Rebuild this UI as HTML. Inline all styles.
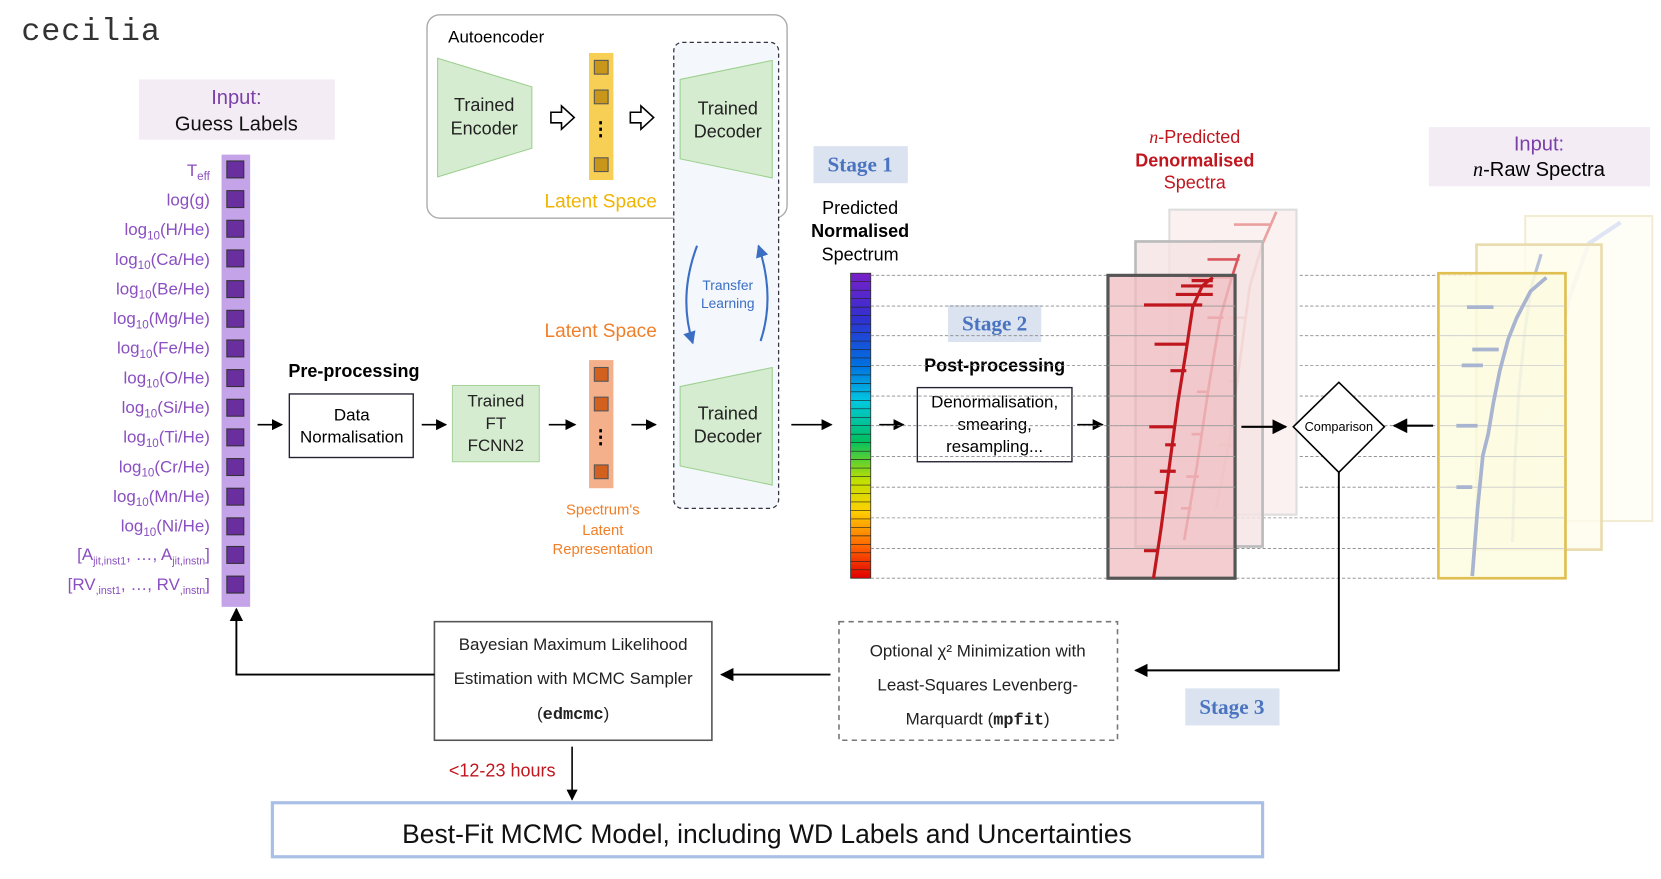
<!DOCTYPE html>
<html><head><meta charset="utf-8"><style>
html,body{margin:0;padding:0;background:#fff;}
svg{display:block;font-family:"Liberation Sans",sans-serif;}
</style></head><body>
<svg width="1661" height="879" viewBox="0 0 1568 830" xmlns="http://www.w3.org/2000/svg">
<defs>
<marker id="ar" viewBox="0 0 10 10" refX="9" refY="5" markerWidth="7" markerHeight="7" orient="auto"><path d="M0,0 L10,5 L0,10 z" fill="#000"/></marker>
<marker id="arb" viewBox="0 0 10 10" refX="9" refY="5" markerWidth="6" markerHeight="6" orient="auto"><path d="M0,0 L10,5 L0,10 z" fill="#3a6fc4"/></marker>
<linearGradient id="rb" x1="0" y1="0" x2="0" y2="1">
<stop offset="0" stop-color="#7a1fc8"/><stop offset="0.15" stop-color="#3030d0"/><stop offset="0.3" stop-color="#0070e0"/><stop offset="0.42" stop-color="#00c8e0"/><stop offset="0.55" stop-color="#00c060"/><stop offset="0.68" stop-color="#c0e000"/><stop offset="0.78" stop-color="#ffd000"/><stop offset="0.9" stop-color="#ff6000"/><stop offset="1" stop-color="#e00000"/></linearGradient>
</defs>
<text x="20" y="38" font-family="Liberation Mono,monospace" font-size="30" fill="#333" letter-spacing="0.8">cecilia</text>

<!-- Input guess labels -->
<rect x="131" y="75" width="185" height="57" fill="#f3ecf5"/>
<text x="223" y="98" font-size="19" fill="#7b3fa8" text-anchor="middle">Input:</text>
<text x="223" y="123" font-size="19" fill="#111" text-anchor="middle">Guess Labels</text>
<rect x="209" y="146" width="27" height="427" fill="#c4a3e8"/>
<g fill="#6a2f9e" stroke="#333" stroke-width="1">
<rect x="214" y="152" width="16" height="16"/><rect x="214" y="180" width="16" height="16"/><rect x="214" y="208" width="16" height="16"/><rect x="214" y="236" width="16" height="16"/><rect x="214" y="265" width="16" height="16"/><rect x="214" y="293" width="16" height="16"/><rect x="214" y="321" width="16" height="16"/><rect x="214" y="349" width="16" height="16"/><rect x="214" y="377" width="16" height="16"/><rect x="214" y="405" width="16" height="16"/><rect x="214" y="433" width="16" height="16"/><rect x="214" y="461" width="16" height="16"/><rect x="214" y="489" width="16" height="16"/><rect x="214" y="516" width="16" height="16"/><rect x="214" y="544" width="16" height="16"/>
</g>
<g font-size="16" fill="#8a4fc0" text-anchor="end">
<text x="198" y="166">T<tspan font-size="11" dy="4">eff</tspan></text>
<text x="198" y="194">log(g)</text>
<text x="198" y="222">log<tspan font-size="11" dy="4">10</tspan><tspan dy="-4">(H/He)</tspan></text>
<text x="198" y="250">log<tspan font-size="11" dy="4">10</tspan><tspan dy="-4">(Ca/He)</tspan></text>
<text x="198" y="278">log<tspan font-size="11" dy="4">10</tspan><tspan dy="-4">(Be/He)</tspan></text>
<text x="198" y="306">log<tspan font-size="11" dy="4">10</tspan><tspan dy="-4">(Mg/He)</tspan></text>
<text x="198" y="334">log<tspan font-size="11" dy="4">10</tspan><tspan dy="-4">(Fe/He)</tspan></text>
<text x="198" y="362">log<tspan font-size="11" dy="4">10</tspan><tspan dy="-4">(O/He)</tspan></text>
<text x="198" y="390">log<tspan font-size="11" dy="4">10</tspan><tspan dy="-4">(Si/He)</tspan></text>
<text x="198" y="418">log<tspan font-size="11" dy="4">10</tspan><tspan dy="-4">(Ti/He)</tspan></text>
<text x="198" y="446">log<tspan font-size="11" dy="4">10</tspan><tspan dy="-4">(Cr/He)</tspan></text>
<text x="198" y="474">log<tspan font-size="11" dy="4">10</tspan><tspan dy="-4">(Mn/He)</tspan></text>
<text x="198" y="502">log<tspan font-size="11" dy="4">10</tspan><tspan dy="-4">(Ni/He)</tspan></text>
<text x="198" y="529">[A<tspan font-size="10" dy="4">jit,inst1</tspan><tspan dy="-4">, …, A</tspan><tspan font-size="10" dy="4">jit,instn</tspan><tspan dy="-4">]</tspan></text>
<text x="198" y="557">[RV<tspan font-size="10" dy="4">,inst1</tspan><tspan dy="-4">, …, RV</tspan><tspan font-size="10" dy="4">,instn</tspan><tspan dy="-4">]</tspan></text>
</g>

<g stroke="#000" stroke-width="1.5" marker-end="url(#ar)">
<line x1="243" y1="401" x2="266" y2="401"/>
<line x1="398" y1="401" x2="421" y2="401"/>
<line x1="518" y1="401" x2="543" y2="401"/>
<line x1="596" y1="401" x2="619" y2="401"/>
<line x1="747" y1="401" x2="785" y2="401"/>
<line x1="830" y1="401" x2="853" y2="401"/>
<line x1="1017" y1="401" x2="1041" y2="401"/>
</g>

<text x="334" y="356" font-size="17" font-weight="bold" text-anchor="middle">Pre-processing</text>
<rect x="273" y="372" width="117" height="60" fill="#fff" stroke="#223" stroke-width="1.3"/>
<text x="332" y="397" font-size="16" text-anchor="middle">Data</text>
<text x="332" y="418" font-size="16" text-anchor="middle">Normalisation</text>

<rect x="427" y="364" width="82" height="72" fill="#d5ecd0" stroke="#a8d49c"/>
<text x="468" y="384" font-size="16" text-anchor="middle" fill="#222">Trained</text>
<text x="468" y="405" font-size="16" text-anchor="middle" fill="#222">FT</text>
<text x="468" y="426" font-size="16" text-anchor="middle" fill="#222">FCNN2</text>

<!-- Autoencoder box -->
<rect x="403" y="14" width="340" height="192" rx="12" fill="#fff" stroke="#aaa" stroke-width="1.3"/>
<rect x="636" y="40" width="99" height="440" rx="8" fill="#f4f7fc" stroke="#334" stroke-width="1.2" stroke-dasharray="4,3"/>
<text x="423" y="40" font-size="16">Autoencoder</text>
<path d="M413,55 L502,82 L502,140 L413,167 Z" fill="#d5ecd0" stroke="#9cd08f"/>
<text x="457" y="105" font-size="17" text-anchor="middle" fill="#222">Trained</text>
<text x="457" y="127" font-size="17" text-anchor="middle" fill="#222">Encoder</text>
<path d="M520,106 h10 v-6 l12,11 l-12,11 v-6 h-10 z" fill="#fff" stroke="#000" stroke-width="1.5"/>
<path d="M595,106 h10 v-6 l12,11 l-12,11 v-6 h-10 z" fill="#fff" stroke="#000" stroke-width="1.5"/>
<rect x="556" y="50" width="23" height="120" fill="#f7cf54"/>
<g fill="#c8961a" stroke="#555"><rect x="561" y="57" width="13" height="13"/><rect x="561" y="85" width="13" height="13"/><rect x="561" y="149" width="13" height="13"/></g>
<text x="567" y="128" font-size="18" text-anchor="middle" font-weight="bold">⋮</text>
<text x="567" y="196" font-size="18" text-anchor="middle" fill="#f0b400">Latent Space</text>
<path d="M642,75 L729,57 L729,168 L642,150 Z" fill="#d5ecd0" stroke="#9cd08f"/>
<text x="687" y="108" font-size="17" text-anchor="middle" fill="#222">Trained</text>
<text x="687" y="130" font-size="17" text-anchor="middle" fill="#222">Decoder</text>

<!-- Transfer learning -->
<text x="687" y="274" font-size="13" fill="#3a6fc4" text-anchor="middle">Transfer</text>
<text x="687" y="291" font-size="13" fill="#3a6fc4" text-anchor="middle">Learning</text>
<path d="M658,232 Q640,280 654,324" fill="none" stroke="#3a6fc4" stroke-width="2" marker-end="url(#arb)"/>
<path d="M718,322 Q732,280 716,232" fill="none" stroke="#3a6fc4" stroke-width="2" marker-end="url(#arb)"/>

<text x="567" y="318" font-size="18" text-anchor="middle" fill="#f07f2a">Latent Space</text>
<rect x="556" y="340" width="23" height="121" fill="#f4b08a"/>
<g fill="#d2601f" stroke="#555"><rect x="561" y="347" width="13" height="13"/><rect x="561" y="375" width="13" height="13"/><rect x="561" y="439" width="13" height="13"/></g>
<text x="567" y="419" font-size="18" text-anchor="middle" font-weight="bold">⋮</text>
<g font-size="14" fill="#f07f2a" text-anchor="middle"><text x="569" y="486">Spectrum's</text><text x="569" y="505">Latent</text><text x="569" y="523">Representation</text></g>

<path d="M642,365 L729,347 L729,458 L642,440 Z" fill="#d5ecd0" stroke="#9cd08f"/>
<text x="687" y="396" font-size="17" text-anchor="middle" fill="#222">Trained</text>
<text x="687" y="418" font-size="17" text-anchor="middle" fill="#222">Decoder</text>

<!-- Stage boxes -->
<rect x="768" y="138" width="89" height="35" fill="#dbe3f0"/>
<text x="812" y="162" font-family="Liberation Serif,serif" font-size="20" font-weight="bold" fill="#4a74c0" text-anchor="middle">Stage 1</text>
<rect x="895" y="288" width="88" height="35" fill="#dbe3f0"/>
<text x="939" y="312" font-family="Liberation Serif,serif" font-size="20" font-weight="bold" fill="#4a74c0" text-anchor="middle">Stage 2</text>
<rect x="1119" y="650" width="89" height="35" fill="#dbe3f0"/>
<text x="1163" y="674" font-family="Liberation Serif,serif" font-size="20" font-weight="bold" fill="#4a74c0" text-anchor="middle">Stage 3</text>

<g font-size="17" text-anchor="middle"><text x="812" y="202">Predicted</text><text x="812" y="224" font-weight="bold">Normalised</text><text x="812" y="246">Spectrum</text></g>
<rect x="803" y="258" width="19" height="288" fill="url(#rb)" stroke="#333" stroke-width="0.8"/>
<g stroke="#222" stroke-width="0.6">
<path d="M803,266h19M803,274h19M803,282h19M803,290h19M803,298h19M803,306h19M803,314h19M803,322h19M803,330h19M803,338h19M803,346h19M803,354h19M803,362h19M803,370h19M803,378h19M803,386h19M803,394h19M803,402h19M803,410h19M803,418h19M803,426h19M803,434h19M803,442h19M803,450h19M803,458h19M803,466h19M803,474h19M803,482h19M803,490h19M803,498h19M803,506h19M803,514h19M803,522h19M803,530h19M803,538h19"/>
</g>

<text x="939" y="351" font-size="17" font-weight="bold" text-anchor="middle">Post-processing</text>
<rect x="866" y="366" width="146" height="70" fill="#fff" stroke="#223" stroke-width="1.3"/>
<g font-size="16" text-anchor="middle"><text x="939" y="385">Denormalisation,</text><text x="939" y="406">smearing,</text><text x="939" y="427">resampling...</text></g>

<!-- dotted guide lines -->
<g stroke="#888" stroke-width="0.8" stroke-dasharray="3,2">
<path d="M822,260H1400M822,289H1400M822,317H1400M822,345H1400M822,374H1400M822,402H1400M822,431H1400M822,460H1400M822,489H1400M822,518H1400M822,546H1400"/>
</g>

<!-- red spectra panels -->
<rect x="1104" y="198" width="120" height="288" fill="#fbf1f1" stroke="#ddd" stroke-width="2"/>
<path d="M1148,480 L1160,420 L1168,360 L1180,270 L1192,230 L1205,200 M1165,212h35 M1145,228h45 M1160,300h15 M1160,360h10 M1150,420h15 M1140,460h10" fill="none" stroke="#eba0a0" stroke-width="2.5"/>
<rect x="1072" y="228" width="120" height="288" fill="#f5e4e4" fill-opacity="0.8" stroke="#bbb" stroke-width="2.5"/>
<path d="M1118,510 L1130,440 L1142,360 L1152,300 L1162,265 L1170,240 M1122,262h40 M1140,245h30 M1140,300h15 M1130,370h10 M1120,450h12 M1115,480h10 M1125,410h10" fill="none" stroke="#d9565c" stroke-width="2.5"/>
<rect x="1046" y="260" width="120" height="286" fill="#f0c0c4" fill-opacity="0.8" stroke="#555" stroke-width="3"/>
<g stroke="#999" stroke-width="0.8"><path d="M1046,289h120M1046,317h120M1046,345h120M1046,374h120M1046,402h120M1046,431h120M1046,460h120M1046,489h120M1046,518h120"/></g>
<path d="M1089,546 L1096,500 L1104,440 L1112,380 L1120,330 L1126,290 L1135,270 L1145,262 M1080,288h55 M1110,278h35 M1115,270h30 M1125,265h20 M1090,325h30 M1105,350h15 M1085,403h25 M1095,445h15 M1080,520h12 M1090,465h12 M1100,420h10" fill="none" stroke="#c0161e" stroke-width="3"/>

<g font-size="17" fill="#c0161e" text-anchor="middle"><text x="1128" y="135"><tspan font-family="Liberation Serif,serif" font-style="italic">n</tspan>-Predicted</text><text x="1128" y="157" font-weight="bold">Denormalised</text><text x="1128" y="178">Spectra</text></g>

<!-- Comparison -->
<line x1="1172" y1="403" x2="1214" y2="403" stroke="#000" stroke-width="2" marker-end="url(#ar)"/>
<path d="M1264,361 L1307,403 L1264,446 L1221,403 Z" fill="#fff" stroke="#000" stroke-width="1.5"/>
<text x="1264" y="407" font-size="12" text-anchor="middle">Comparison</text>
<line x1="1353" y1="402" x2="1316" y2="402" stroke="#000" stroke-width="2" marker-end="url(#ar)"/>

<!-- yellow panels -->
<rect x="1440" y="204" width="120" height="288" fill="#fffef6" stroke="#f2ecd5" stroke-width="2"/>
<path d="M1458,476 L1462,400 L1470,330 L1482,280 L1500,230 L1530,210" fill="none" stroke="#dfe5f5" stroke-width="4"/>
<rect x="1394" y="231" width="118" height="288" fill="#fffdec" fill-opacity="0.8" stroke="#eadcaf" stroke-width="2.5"/>
<path d="M1428,512 L1430,440 L1434,370 L1440,310 L1446,270 L1455,240" fill="none" stroke="#b7c1d8" stroke-width="3"/>
<rect x="1358" y="258" width="120" height="288" fill="#fdfbe0" fill-opacity="0.85" stroke="#e0be50" stroke-width="2.5"/>
<g stroke="#ccc" stroke-width="0.8"><path d="M1358,289h120M1358,317h120M1358,345h120M1358,374h120M1358,402h120M1358,431h120M1358,460h120M1358,489h120M1358,518h120"/></g>
<path d="M1390,544 L1395,480 L1400,430 L1405,410 L1410,380 L1416,350 L1424,320 L1432,300 L1445,275 L1460,262 M1375,402h20 M1390,330h25 M1380,345h20 M1385,290h25 M1375,460h15" fill="none" stroke="#a8b4d0" stroke-width="3.5"/>

<rect x="1349" y="120" width="209" height="56" fill="#f3ecf5"/>
<text x="1453" y="142" font-size="19" fill="#7b3fa8" text-anchor="middle">Input:</text>
<text x="1453" y="166" font-size="19" text-anchor="middle"><tspan font-family="Liberation Serif,serif" font-style="italic">n</tspan>-Raw Spectra</text>

<!-- lower loop -->
<path d="M1264,446 V633 H1072" fill="none" stroke="#000" stroke-width="1.8" marker-end="url(#ar)"/>
<rect x="792" y="587" width="263" height="112" fill="#fff" stroke="#777" stroke-width="1.5" stroke-dasharray="5,4"/>
<g font-size="16" text-anchor="middle" fill="#222"><text x="923" y="620">Optional χ² Minimization with</text><text x="923" y="652">Least-Squares Levenberg-</text><text x="923" y="684">Marquardt (<tspan font-family="Liberation Mono,monospace" font-weight="bold">mpfit</tspan>)</text></g>
<line x1="784" y1="637" x2="681" y2="637" stroke="#000" stroke-width="1.8" marker-end="url(#ar)"/>
<rect x="410" y="587" width="262" height="112" fill="#fff" stroke="#555" stroke-width="1.5"/>
<g font-size="16" text-anchor="middle" fill="#222"><text x="541" y="614">Bayesian Maximum Likelihood</text><text x="541" y="646">Estimation with MCMC Sampler</text><text x="541" y="679">(<tspan font-family="Liberation Mono,monospace" font-weight="bold">edmcmc</tspan>)</text></g>
<path d="M410,637 H223 V575" fill="none" stroke="#000" stroke-width="1.8" marker-end="url(#ar)"/>
<text x="474" y="733" font-size="17" fill="#c0161e" text-anchor="middle">&lt;12-23 hours</text>
<line x1="540" y1="705" x2="540" y2="755" stroke="#000" stroke-width="1.5" marker-end="url(#ar)"/>
<rect x="257" y="758" width="935" height="51" fill="#fff" stroke="#a9bfe6" stroke-width="3"/>
<text x="724" y="796" font-size="25" text-anchor="middle" fill="#111">Best-Fit MCMC Model, including WD Labels and Uncertainties</text>
</svg>
</body></html>
